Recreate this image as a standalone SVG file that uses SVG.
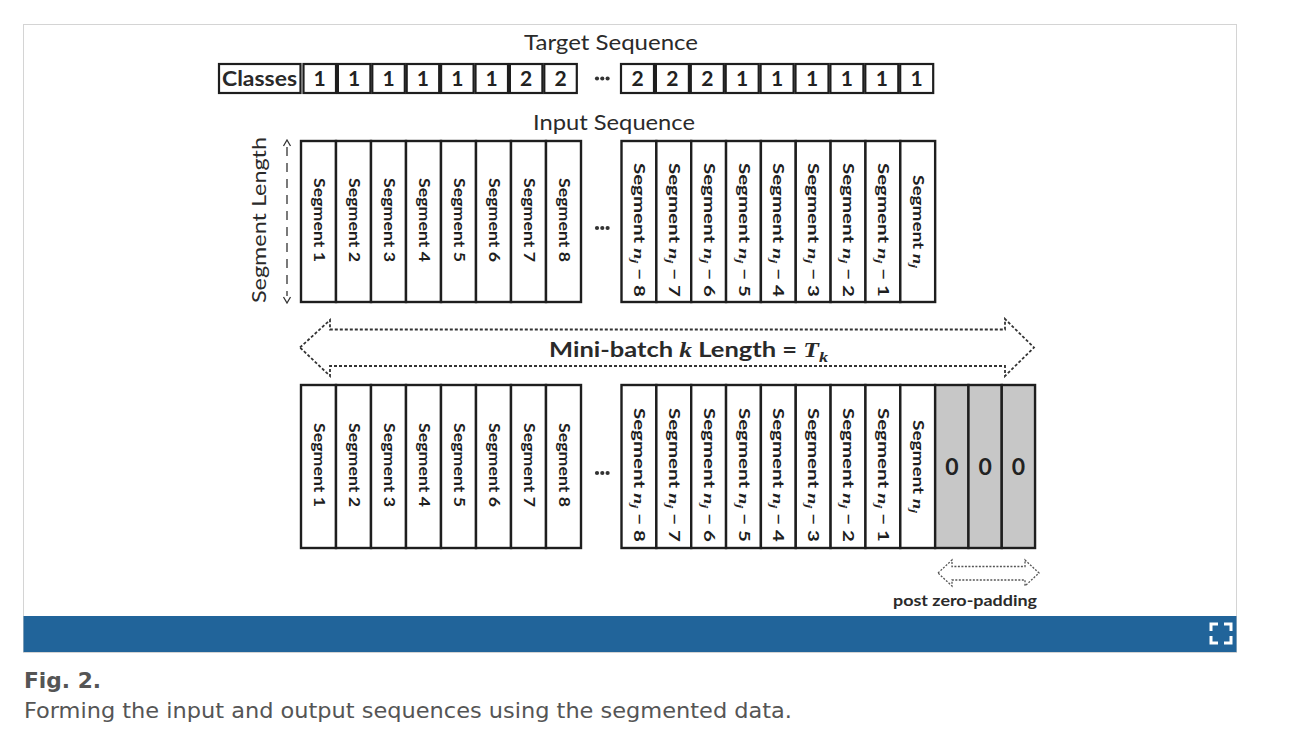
<svg xmlns="http://www.w3.org/2000/svg" width="1305" height="751" viewBox="0 0 1305 751">
<style>
.lbl{font-family:Lato,"Liberation Sans",sans-serif;fill:#2a2a2a}
.b{font-weight:bold}
.box{fill:#fff;stroke:#1e1e1e;stroke-width:2.2}
.col{fill:#fff;stroke:#1e1e1e;stroke-width:2.4}
.pad{fill:#c7c7c7;stroke:#1e1e1e;stroke-width:2.4}
.num{font-family:Lato,"Liberation Sans",sans-serif;font-weight:bold;font-size:21px;fill:#222;text-anchor:middle}
.zero{font-size:23px}
.seg{font-family:Lato,"Liberation Sans",sans-serif;font-weight:bold;font-size:14.5px;fill:#1e1e1e}
.m{font-family:"Liberation Serif","DejaVu Serif",serif;font-style:italic}
.dot{fill:#333}
.dash{fill:none;stroke:#333;stroke-width:1.8;stroke-dasharray:3 2}
.cap{font-family:"DejaVu Sans Condensed","DejaVu Sans",Verdana,sans-serif;font-stretch:condensed;fill:#555}
</style>
<rect x="0" y="0" width="1305" height="751" fill="#fff"/>
<g id="frame">
<rect x="23.5" y="24.5" width="1213" height="628" fill="#fff" stroke="#d4d4d4" stroke-width="1"/>
<rect x="23.5" y="616" width="1213" height="36" fill="#21649a"/>
<path d="M1211,631V624H1218M1224,624H1231V631M1211,636V643H1218M1224,643H1231V636" fill="none" stroke="#fff" stroke-width="3"/>
</g>
<g id="titles">
<text class="lbl" x="524" y="50" font-size="21" textLength="174" lengthAdjust="spacingAndGlyphs">Target Sequence</text>
<text class="lbl" x="533" y="130" font-size="21" textLength="162" lengthAdjust="spacingAndGlyphs">Input Sequence</text>
</g>
<g id="target-sequence">
<rect class="box" x="219" y="64" width="81.5" height="29"/>
<text class="lbl b" x="222" y="86" font-size="21" textLength="75" lengthAdjust="spacingAndGlyphs">Classes</text>
<rect class="box" x="303.5" y="64" width="32.5" height="29"/><text class="num" x="319.7" y="86">1</text>
<rect class="box" x="337.9" y="64" width="32.5" height="29"/><text class="num" x="354.1" y="86">1</text>
<rect class="box" x="372.3" y="64" width="32.5" height="29"/><text class="num" x="388.5" y="86">1</text>
<rect class="box" x="406.7" y="64" width="32.5" height="29"/><text class="num" x="422.9" y="86">1</text>
<rect class="box" x="441.1" y="64" width="32.5" height="29"/><text class="num" x="457.3" y="86">1</text>
<rect class="box" x="475.5" y="64" width="32.5" height="29"/><text class="num" x="491.7" y="86">1</text>
<rect class="box" x="509.9" y="64" width="32.5" height="29"/><text class="num" x="526.1" y="86">2</text>
<rect class="box" x="544.3" y="64" width="32.5" height="29"/><text class="num" x="560.5" y="86">2</text>
<circle class="dot" cx="597" cy="78.5" r="2.1"/><circle class="dot" cx="602.3" cy="78.5" r="2.1"/><circle class="dot" cx="607.6" cy="78.5" r="2.1"/>
<rect class="box" x="621" y="64" width="33" height="29"/><text class="num" x="637.5" y="86">2</text>
<rect class="box" x="655.9" y="64" width="33" height="29"/><text class="num" x="672.4" y="86">2</text>
<rect class="box" x="690.8" y="64" width="33" height="29"/><text class="num" x="707.3" y="86">2</text>
<rect class="box" x="725.7" y="64" width="33" height="29"/><text class="num" x="742.2" y="86">1</text>
<rect class="box" x="760.6" y="64" width="33" height="29"/><text class="num" x="777.1" y="86">1</text>
<rect class="box" x="795.5" y="64" width="33" height="29"/><text class="num" x="812" y="86">1</text>
<rect class="box" x="830.4" y="64" width="33" height="29"/><text class="num" x="846.9" y="86">1</text>
<rect class="box" x="865.3" y="64" width="33" height="29"/><text class="num" x="881.8" y="86">1</text>
<rect class="box" x="900.2" y="64" width="33" height="29"/><text class="num" x="916.7" y="86">1</text>
</g>
<g id="segment-length">
<text class="lbl" font-size="20" text-anchor="middle" textLength="166" lengthAdjust="spacingAndGlyphs" transform="translate(266,220) rotate(-90)">Segment Length</text>
</g>
<g id="input-sequence">
<rect class="col" x="301" y="141" width="35" height="161"/>
<rect class="col" x="336" y="141" width="35" height="161"/>
<rect class="col" x="371" y="141" width="35" height="161"/>
<rect class="col" x="406" y="141" width="35" height="161"/>
<rect class="col" x="441" y="141" width="35" height="161"/>
<rect class="col" x="476" y="141" width="35" height="161"/>
<rect class="col" x="511" y="141" width="35" height="161"/>
<rect class="col" x="546" y="141" width="35" height="161"/>
<text class="seg" textLength="84" lengthAdjust="spacingAndGlyphs" transform="translate(313.5,178) rotate(90)">Segment 1</text>
<text class="seg" textLength="84" lengthAdjust="spacingAndGlyphs" transform="translate(348.5,178) rotate(90)">Segment 2</text>
<text class="seg" textLength="84" lengthAdjust="spacingAndGlyphs" transform="translate(383.5,178) rotate(90)">Segment 3</text>
<text class="seg" textLength="84" lengthAdjust="spacingAndGlyphs" transform="translate(418.5,178) rotate(90)">Segment 4</text>
<text class="seg" textLength="84" lengthAdjust="spacingAndGlyphs" transform="translate(453.5,178) rotate(90)">Segment 5</text>
<text class="seg" textLength="84" lengthAdjust="spacingAndGlyphs" transform="translate(488.5,178) rotate(90)">Segment 6</text>
<text class="seg" textLength="84" lengthAdjust="spacingAndGlyphs" transform="translate(523.5,178) rotate(90)">Segment 7</text>
<text class="seg" textLength="84" lengthAdjust="spacingAndGlyphs" transform="translate(558.5,178) rotate(90)">Segment 8</text>
<circle class="dot" cx="597" cy="228" r="2.1"/><circle class="dot" cx="602.3" cy="228" r="2.1"/><circle class="dot" cx="607.6" cy="228" r="2.1"/>
<rect class="col" x="621.5" y="141" width="34.85" height="161"/>
<rect class="col" x="656.35" y="141" width="34.85" height="161"/>
<rect class="col" x="691.2" y="141" width="34.85" height="161"/>
<rect class="col" x="726.05" y="141" width="34.85" height="161"/>
<rect class="col" x="760.9" y="141" width="34.85" height="161"/>
<rect class="col" x="795.75" y="141" width="34.85" height="161"/>
<rect class="col" x="830.6" y="141" width="34.85" height="161"/>
<rect class="col" x="865.45" y="141" width="34.85" height="161"/>
<rect class="col" x="900.3" y="141" width="34.85" height="161"/>
<text class="seg" textLength="134" lengthAdjust="spacingAndGlyphs" transform="translate(634,163) rotate(90)">Segment <tspan class="m">n</tspan><tspan class="m" font-size="10" dy="3">j</tspan><tspan dy="-3"> − 8</tspan></text>
<text class="seg" textLength="134" lengthAdjust="spacingAndGlyphs" transform="translate(668.8,163) rotate(90)">Segment <tspan class="m">n</tspan><tspan class="m" font-size="10" dy="3">j</tspan><tspan dy="-3"> − 7</tspan></text>
<text class="seg" textLength="134" lengthAdjust="spacingAndGlyphs" transform="translate(703.7,163) rotate(90)">Segment <tspan class="m">n</tspan><tspan class="m" font-size="10" dy="3">j</tspan><tspan dy="-3"> − 6</tspan></text>
<text class="seg" textLength="134" lengthAdjust="spacingAndGlyphs" transform="translate(738.5,163) rotate(90)">Segment <tspan class="m">n</tspan><tspan class="m" font-size="10" dy="3">j</tspan><tspan dy="-3"> − 5</tspan></text>
<text class="seg" textLength="134" lengthAdjust="spacingAndGlyphs" transform="translate(773.4,163) rotate(90)">Segment <tspan class="m">n</tspan><tspan class="m" font-size="10" dy="3">j</tspan><tspan dy="-3"> − 4</tspan></text>
<text class="seg" textLength="134" lengthAdjust="spacingAndGlyphs" transform="translate(808.2,163) rotate(90)">Segment <tspan class="m">n</tspan><tspan class="m" font-size="10" dy="3">j</tspan><tspan dy="-3"> − 3</tspan></text>
<text class="seg" textLength="134" lengthAdjust="spacingAndGlyphs" transform="translate(843.1,163) rotate(90)">Segment <tspan class="m">n</tspan><tspan class="m" font-size="10" dy="3">j</tspan><tspan dy="-3"> − 2</tspan></text>
<text class="seg" textLength="134" lengthAdjust="spacingAndGlyphs" transform="translate(877.9,163) rotate(90)">Segment <tspan class="m">n</tspan><tspan class="m" font-size="10" dy="3">j</tspan><tspan dy="-3"> − 1</tspan></text>
<text class="seg" textLength="93" lengthAdjust="spacingAndGlyphs" transform="translate(912.8,175) rotate(90)">Segment <tspan class="m">n</tspan><tspan class="m" font-size="10" dy="3">j</tspan></text>
</g>
<g id="mini-batch">
<rect class="col" x="301" y="385" width="35" height="163"/>
<rect class="col" x="336" y="385" width="35" height="163"/>
<rect class="col" x="371" y="385" width="35" height="163"/>
<rect class="col" x="406" y="385" width="35" height="163"/>
<rect class="col" x="441" y="385" width="35" height="163"/>
<rect class="col" x="476" y="385" width="35" height="163"/>
<rect class="col" x="511" y="385" width="35" height="163"/>
<rect class="col" x="546" y="385" width="35" height="163"/>
<text class="seg" textLength="84" lengthAdjust="spacingAndGlyphs" transform="translate(313.5,423) rotate(90)">Segment 1</text>
<text class="seg" textLength="84" lengthAdjust="spacingAndGlyphs" transform="translate(348.5,423) rotate(90)">Segment 2</text>
<text class="seg" textLength="84" lengthAdjust="spacingAndGlyphs" transform="translate(383.5,423) rotate(90)">Segment 3</text>
<text class="seg" textLength="84" lengthAdjust="spacingAndGlyphs" transform="translate(418.5,423) rotate(90)">Segment 4</text>
<text class="seg" textLength="84" lengthAdjust="spacingAndGlyphs" transform="translate(453.5,423) rotate(90)">Segment 5</text>
<text class="seg" textLength="84" lengthAdjust="spacingAndGlyphs" transform="translate(488.5,423) rotate(90)">Segment 6</text>
<text class="seg" textLength="84" lengthAdjust="spacingAndGlyphs" transform="translate(523.5,423) rotate(90)">Segment 7</text>
<text class="seg" textLength="84" lengthAdjust="spacingAndGlyphs" transform="translate(558.5,423) rotate(90)">Segment 8</text>
<circle class="dot" cx="597" cy="473" r="2.1"/><circle class="dot" cx="602.3" cy="473" r="2.1"/><circle class="dot" cx="607.6" cy="473" r="2.1"/>
<rect class="col" x="621.5" y="385" width="34.85" height="163"/>
<rect class="col" x="656.35" y="385" width="34.85" height="163"/>
<rect class="col" x="691.2" y="385" width="34.85" height="163"/>
<rect class="col" x="726.05" y="385" width="34.85" height="163"/>
<rect class="col" x="760.9" y="385" width="34.85" height="163"/>
<rect class="col" x="795.75" y="385" width="34.85" height="163"/>
<rect class="col" x="830.6" y="385" width="34.85" height="163"/>
<rect class="col" x="865.45" y="385" width="34.85" height="163"/>
<rect class="col" x="900.3" y="385" width="34.85" height="163"/>
<rect class="pad" x="935.15" y="385" width="33.3" height="163"/>
<rect class="pad" x="968.45" y="385" width="33.3" height="163"/>
<rect class="pad" x="1001.75" y="385" width="33.3" height="163"/>
<text class="num zero" x="951.8" y="475">0</text>
<text class="num zero" x="985.1" y="475">0</text>
<text class="num zero" x="1018.4" y="475">0</text>
<text class="seg" textLength="134" lengthAdjust="spacingAndGlyphs" transform="translate(634,408) rotate(90)">Segment <tspan class="m">n</tspan><tspan class="m" font-size="10" dy="3">j</tspan><tspan dy="-3"> − 8</tspan></text>
<text class="seg" textLength="134" lengthAdjust="spacingAndGlyphs" transform="translate(668.8,408) rotate(90)">Segment <tspan class="m">n</tspan><tspan class="m" font-size="10" dy="3">j</tspan><tspan dy="-3"> − 7</tspan></text>
<text class="seg" textLength="134" lengthAdjust="spacingAndGlyphs" transform="translate(703.7,408) rotate(90)">Segment <tspan class="m">n</tspan><tspan class="m" font-size="10" dy="3">j</tspan><tspan dy="-3"> − 6</tspan></text>
<text class="seg" textLength="134" lengthAdjust="spacingAndGlyphs" transform="translate(738.5,408) rotate(90)">Segment <tspan class="m">n</tspan><tspan class="m" font-size="10" dy="3">j</tspan><tspan dy="-3"> − 5</tspan></text>
<text class="seg" textLength="134" lengthAdjust="spacingAndGlyphs" transform="translate(773.4,408) rotate(90)">Segment <tspan class="m">n</tspan><tspan class="m" font-size="10" dy="3">j</tspan><tspan dy="-3"> − 4</tspan></text>
<text class="seg" textLength="134" lengthAdjust="spacingAndGlyphs" transform="translate(808.2,408) rotate(90)">Segment <tspan class="m">n</tspan><tspan class="m" font-size="10" dy="3">j</tspan><tspan dy="-3"> − 3</tspan></text>
<text class="seg" textLength="134" lengthAdjust="spacingAndGlyphs" transform="translate(843.1,408) rotate(90)">Segment <tspan class="m">n</tspan><tspan class="m" font-size="10" dy="3">j</tspan><tspan dy="-3"> − 2</tspan></text>
<text class="seg" textLength="134" lengthAdjust="spacingAndGlyphs" transform="translate(877.9,408) rotate(90)">Segment <tspan class="m">n</tspan><tspan class="m" font-size="10" dy="3">j</tspan><tspan dy="-3"> − 1</tspan></text>
<text class="seg" textLength="93" lengthAdjust="spacingAndGlyphs" transform="translate(912.8,420) rotate(90)">Segment <tspan class="m">n</tspan><tspan class="m" font-size="10" dy="3">j</tspan></text>
</g>
<g id="connectors">
<path d="M287,147V296" fill="none" stroke="#333" stroke-width="1.3" stroke-dasharray="9 7"/>
<path d="M283.5,146L287,140L290.5,146M283.5,297L287,303L290.5,297" fill="none" stroke="#333" stroke-width="1.3"/>
<path class="dash" d="M300,347.5L330,320L330,329.5L1005,329.5L1005,319L1034,347.5L1005,376L1005,366L330,366L330,376Z"/>
<path d="M938,573L952,560L952,566.5L1025,566.5L1025,560L1039,573L1025,586L1025,580L952,580L952,586Z" fill="none" stroke="#555" stroke-width="1.3" stroke-dasharray="2 1.5"/>
</g>
<g id="labels">
<text class="lbl b" x="549" y="357" font-size="21" textLength="279" lengthAdjust="spacingAndGlyphs">Mini-batch <tspan class="m">k</tspan> Length = <tspan class="m">T</tspan><tspan class="m" font-size="15" dy="5">k</tspan></text>
<text class="lbl b" x="893" y="606" font-size="16" textLength="144" lengthAdjust="spacingAndGlyphs">post zero-padding</text>
</g>
<g id="caption">
<text class="cap" x="24" y="688" font-size="21" font-weight="bold" textLength="77" lengthAdjust="spacingAndGlyphs">Fig. 2.</text>
<text class="cap" x="24" y="718" font-size="21" textLength="768" lengthAdjust="spacingAndGlyphs">Forming the input and output sequences using the segmented data.</text>
</g>
</svg>
